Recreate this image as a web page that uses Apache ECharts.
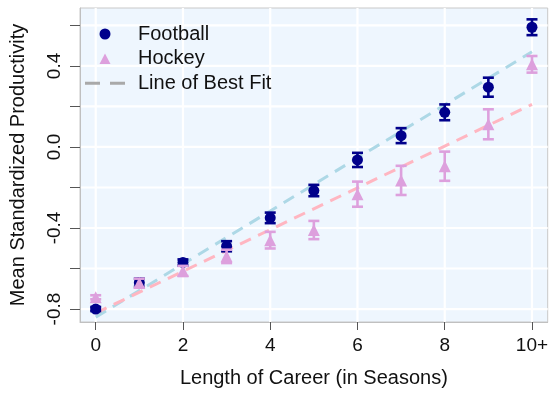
<!DOCTYPE html>
<html>
<head>
<meta charset="utf-8">
<script src="https://cdn.jsdelivr.net/npm/echarts@6/dist/echarts.min.js"></script>
<style>
  html, body { margin: 0; padding: 0; background: #ffffff; }
  #chart { width: 551px; height: 395px; }
</style>
</head>
<body>
<div id="chart"></div>
<script>
// Career length (seasons); the last bucket is shown as "10+"
const seasons = [0, 1, 2, 3, 4, 5, 6, 7, 8, 9, 10];
const xTickValues = [0, 2, 4, 6, 8, 10];
const xTickLabels = ['0', '2', '4', '6', '8', '10+'];
const yTickValues = [-0.8, -0.6, -0.4, -0.2, 0.0, 0.2, 0.4, 0.6];
const yLabelValues = [-0.8, -0.4, 0.0, 0.4];

// Mean standardized productivity and error half-widths
const footballMean = [-0.80, -0.67, -0.57, -0.49, -0.35, -0.215, -0.064, 0.056, 0.171, 0.295, 0.591];
const footballErr  = [0.010, 0.020, 0.015, 0.025, 0.026, 0.028, 0.035, 0.037, 0.039, 0.047, 0.039];
const hockeyMean   = [-0.742, -0.672, -0.612, -0.54, -0.46, -0.41, -0.233, -0.165, -0.095, 0.112, 0.408];
const hockeyErr    = [0.010, 0.022, 0.025, 0.033, 0.041, 0.045, 0.062, 0.072, 0.072, 0.074, 0.041];

// Fitted lines: values at season 0 and season 10
const fitFootball = [-0.84, 0.47];
const fitHockey   = [-0.82, 0.21];

const NAVY = '#00008B';
const PLUM = '#DDA0DD';
const FONT = 'Liberation Sans, Arial, sans-serif';

function pairs(xs, ys) { return xs.map((x, i) => [x, ys[i]]); }
function errRows(xs, m, e) { return xs.map((x, i) => [x, m[i] - e[i], m[i] + e[i]]); }

function errorBars(color) {
  return function (params, api) {
    const x = api.value(0);
    const lo = api.coord([x, api.value(1)]);
    const hi = api.coord([x, api.value(2)]);
    const hw = 5.5;
    const style = { stroke: color, lineWidth: 2.6 };
    return {
      type: 'group',
      children: [
        { type: 'line', shape: { x1: lo[0], y1: lo[1], x2: hi[0], y2: hi[1] }, style: style },
        { type: 'line', shape: { x1: lo[0] - hw, y1: lo[1], x2: lo[0] + hw, y2: lo[1] }, style: style },
        { type: 'line', shape: { x1: hi[0] - hw, y1: hi[1], x2: hi[0] + hw, y2: hi[1] }, style: style }
      ]
    };
  };
}

// White grid lines at every tick (horizontal: every 0.2, vertical: every 2 seasons)
function gridLines(horizontal) {
  return function (params, api) {
    const cs = params.coordSys;
    const v = api.value(0);
    const style = { stroke: '#ffffff', lineWidth: 2.2 };
    if (horizontal) {
      const p = api.coord([0, v]);
      return { type: 'line', shape: { x1: cs.x, y1: p[1], x2: cs.x + cs.width, y2: p[1] }, style: style };
    }
    const p = api.coord([v, 0]);
    return { type: 'line', shape: { x1: p[0], y1: cs.y, x2: p[0], y2: cs.y + cs.height }, style: style };
  };
}

const chart = echarts.init(document.getElementById('chart'), null, { renderer: 'canvas' });

chart.setOption({
  animation: false,
  backgroundColor: '#ffffff',
  grid: {
    left: 77, right: 2, top: 8, bottom: 73,
    show: true,
    backgroundColor: '#EEF6FE',
    borderColor: '#c8c8c8',
    borderWidth: 1
  },
  legend: {
    orient: 'vertical',
    left: 80, top: 19,
    itemWidth: 40, itemHeight: 11,
    itemGap: 4.6,
    selectedMode: false,
    textStyle: { fontFamily: FONT, fontSize: 20, color: '#111', padding: [0, 0, 0, 8], lineHeight: 19 },
    data: [
      { name: 'Football', icon: 'circle' },
      { name: 'Hockey', icon: 'path://M0,0M40,11M14.5,11L20,0.5L25.5,11Z' },
      { name: 'Line of Best Fit', icon: 'path://M0,0h15v3h-15z M25,0h15v3h-15z' }
    ]
  },
  xAxis: {
    type: 'value',
    min: -0.36, max: 10.36,
    name: 'Length of Career (in Seasons)',
    nameLocation: 'middle',
    nameGap: 46,
    nameTextStyle: { fontFamily: FONT, fontSize: 20, color: '#111' },
    axisLine: { show: true, onZero: false, lineStyle: { color: '#c0c0c0', width: 1 } },
    axisTick: { show: true, length: 8, customValues: xTickValues, lineStyle: { color: '#555' } },
    axisLabel: {
      customValues: xTickValues,
      fontFamily: FONT, fontSize: 19, color: '#111', margin: 14,
      formatter: v => xTickLabels[xTickValues.indexOf(Math.round(v))]
    },
    splitLine: { show: false }
  },
  yAxis: {
    type: 'value',
    min: -0.864, max: 0.686,
    name: 'Mean Standardized Productivity',
    nameLocation: 'middle',
    nameGap: 52,
    nameTextStyle: { fontFamily: FONT, fontSize: 20, color: '#111' },
    axisLine: { show: true, onZero: false, lineStyle: { color: '#c0c0c0', width: 1 } },
    axisTick: { show: true, length: 10, customValues: yTickValues, lineStyle: { color: '#555' } },
    axisLabel: {
      customValues: yLabelValues,
      rotate: 90,
      fontFamily: FONT, fontSize: 19, color: '#111', margin: 16,
      formatter: v => v.toFixed(1)
    },
    splitLine: { show: false }
  },
  series: [
    {
      name: 'grid-h', type: 'custom', z: 0, silent: true,
      renderItem: gridLines(true),
      data: yTickValues.map(v => [v])
    },
    {
      name: 'grid-v', type: 'custom', z: 0, silent: true,
      renderItem: gridLines(false),
      data: xTickValues.map(v => [v])
    },
    {
      name: 'Football fit', type: 'line', z: 1,
      data: [[0, fitFootball[0]], [10, fitFootball[1]]],
      symbol: 'none',
      lineStyle: { color: '#ADD8E6', width: 3, type: [12, 8] }
    },
    {
      name: 'Hockey fit', type: 'line', z: 1,
      data: [[0, fitHockey[0]], [10, fitHockey[1]]],
      symbol: 'none',
      lineStyle: { color: '#FFB6C1', width: 3, type: [12, 8] }
    },
    {
      name: 'Line of Best Fit', type: 'line', data: [],
      itemStyle: { color: '#A9A9A9' }, lineStyle: { color: '#A9A9A9' }
    },
    {
      name: 'Football err', type: 'custom', z: 2,
      renderItem: errorBars(NAVY),
      data: errRows(seasons, footballMean, footballErr)
    },
    {
      name: 'Football', type: 'scatter', z: 3,
      symbol: 'circle', symbolSize: 11,
      itemStyle: { color: NAVY, opacity: 1 },
      data: pairs(seasons, footballMean)
    },
    {
      name: 'Hockey err', type: 'custom', z: 4,
      renderItem: errorBars(PLUM),
      data: errRows(seasons, hockeyMean, hockeyErr)
    },
    {
      name: 'Hockey', type: 'scatter', z: 5,
      symbol: 'triangle', symbolSize: 12,
      itemStyle: { color: PLUM, opacity: 1 },
      data: pairs(seasons, hockeyMean)
    }
  ]
});
</script>
</body>
</html>
